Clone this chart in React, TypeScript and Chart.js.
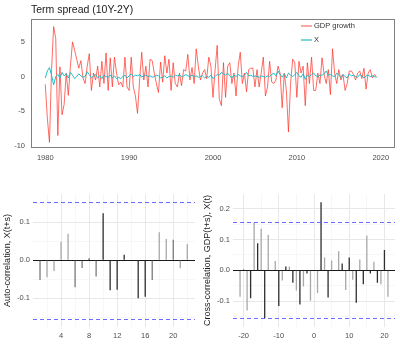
import React, { useEffect, useRef } from "react";
import { Chart, registerables } from "chart.js";

Chart.register(...registerables);

// ---------- DATA ----------
const START_YEAR = 1980;
const GDP_GROWTH = [
  -1.1, -6.0, -9.5, 1.0,
  7.2, 5.5, -8.5, 1.4,
  -5.5, -4.0, 0.5, -2.7,
  1.5, 5.0, 3.8, 2.5,
  1.2, 2.3, -0.2, -1.0,
  1.5, 3.3, -2.0, 0.5,
  -0.5, 1.5, -1.5, 2.2,
  -1.0, 3.4, -2.0, 2.7,
  -1.5, 2.8, 0.5, -1.2,
  -0.8, -1.5, 2.8, -1.5,
  -2.0, 2.8, -1.5, -2.8,
  -5.3, -0.5, 3.5, -0.5,
  1.5, -1.5, 2.5, 2.3,
  0.5, -1.0, -2.3, 2.1,
  -0.8, 3.0, 0.5, 2.5,
  -2.0, 2.0, -1.0, -1.5,
  0.5, -1.3, 1.0, 0.8,
  3.2, -0.5, 1.3, -1.0,
  4.0, 1.5, -0.5, 0.5,
  1.0, -0.3, 2.8, 1.5,
  -3.0, 1.0, 4.5, -3.2,
  -4.2, 2.0, -3.0, 1.5,
  2.0, -1.0, 0.5, -2.8,
  1.5, 3.5, -1.0, 0.5,
  -2.2, 1.0, 1.2, 1.2,
  -1.5, 1.0, -1.5, 0.5,
  2.8, -2.8, -1.5, 2.2,
  -0.8, -1.0, -0.5, 1.5,
  0.5, -4.5, 0.5, -2.0,
  -8.0, -1.0, 2.5, 2.0,
  -3.0, 2.2, 0.5, 1.5,
  -4.2, 2.0, -1.0, 2.8,
  -2.0, -2.0, 0.5, -1.0,
  2.7, 0.3, -1.0, 1.0,
  -2.6, 4.0, 0.5, -1.0,
  1.0, -0.5, 0.3, -2.0,
  -1.0, 0.8, 0.8, 0.3,
  -0.5, 0.5, 0.8, -0.3,
  1.2, -1.8, 0.5, 1.0,
  -0.2, 0.3, 0.0,
];
const X_SERIES = [
  -0.2, 0.8, 1.3, 0.2,
  -1.2, 0.0, 0.3, -0.2,
  0.6, 0.1, 0.4, -0.2,
  0.6, 0.2, -0.3, 0.0,
  0.4, 0.1, -0.1, 0.0,
  0.7, 0.3, -0.2, 0.1,
  0.3, -0.2, 0.1, -0.3,
  0.2, 0.0, -0.1, 0.2,
  -0.2, 0.1, -0.3, -0.1,
  -0.3, 0.0, 0.2, -0.2,
  0.1, 0.4, 0.0, 0.2,
  0.1, 0.3, -0.1, 0.2,
  0.2, 0.0, 0.1, -0.1,
  0.0, 0.2, 0.1, -0.2,
  -0.1, 0.1, -0.2, 0.0,
  0.1, -0.1, 0.2, 0.1,
  0.2, 0.0, 0.1, 0.3,
  0.1, 0.0, 0.2, 0.0,
  0.1, -0.1, 0.0, 0.1,
  -0.2, 0.0, -0.1, 0.2,
  -0.3, 0.0, 0.3, 0.2,
  0.6, 0.4, 0.2, 0.5,
  0.1, -0.2, 0.2, 0.0,
  0.3, 0.1, 0.0, 0.2,
  0.6, 0.1, 0.2, 0.0,
  0.1, 0.0, -0.1, 0.1,
  0.0, -0.1, 0.1, 0.0,
  0.3, 0.5, 0.1, 0.8,
  0.3, -0.1, 0.4, -0.2,
  0.5, 0.2, 0.0, 0.3,
  0.6, 0.1, -0.1, 0.4,
  -0.4, 0.2, 0.0, 0.3,
  0.5, 0.1, 0.0, 0.2,
  0.2, 0.4, 0.8, 0.2,
  0.3, 0.1, 0.0, 0.5,
  0.2, -0.1, 0.3, 0.0,
  -0.2, 0.4, 0.1, 0.2,
  0.0, -0.1, 0.3, 0.1,
  -0.2, 0.1, 0.2, 0.0,
  0.1, 0.0, -0.1,
];
const QUARTERS = GDP_GROWTH.map((_, i) => START_YEAR + i / 4);
const TOP_X_TICKS = [1980, 1990, 2000, 2010, 2020];
const TOP_Y_TICKS = [-10, -5, 0, 5];

const ACF_LAGS = [1, 2, 3, 4, 5, 6, 7, 8, 9, 10, 11, 12, 13, 14, 15, 16, 17, 18, 19, 20, 21, 22];
const ACF_VALUES = [
  -0.052, -0.045, -0.028, 0.049, 0.07, -0.071, -0.02, 0.005, -0.043, 0.124, -0.079,
  -0.078, 0.015, -0.002, -0.1, -0.096, -0.052, 0.074, 0.056, 0.054, -0.021, 0.043,
];
const ACF_X_TICKS = [2, 4, 6, 8, 10, 12, 14, 16, 18, 20, 22];
const ACF_Y_TICKS = [-0.15, -0.1, -0.05, 0, 0.05, 0.1, 0.15];

const CCF_LAGS = [
  -21, -20, -19, -18, -17, -16, -15, -14, -13, -12, -11, -10, -9, -8, -7, -6, -5, -4, -3, -2, -1,
  0, 1, 2, 3, 4, 5, 6, 7, 8, 9, 10, 11, 12, 13, 14, 15, 16, 17, 18, 19, 20, 21,
];
const CCF_VALUES = [
  -0.085, 0.003, -0.13, -0.09, 0.155, 0.088, 0.135, -0.155, 0.115, -0.002, 0.03, -0.115,
  -0.033, 0.013, 0.013, -0.04, -0.065, -0.11, -0.052, -0.01, -0.098,
  0.0, -0.073, 0.22, 0.042, -0.088, 0.032, 0.0, 0.062, 0.022, -0.063, 0.042, -0.03, -0.105,
  0.035, -0.045, 0.113, -0.01, 0.028, -0.04, -0.045, 0.066, -0.085,
];
const CCF_X_TICKS = [-20, -15, -10, -5, 0, 5, 10, 15, 20];
const CCF_Y_TICKS = [-0.15, -0.1, -0.05, 0, 0.05, 0.1, 0.15, 0.2];

const CONF_BOUND = 0.155;

// ---------- STYLES ----------
const FONT = "'Liberation Sans', Arial, sans-serif";
const TICK_COLOR = "#4d4d4d";
const RED = "rgba(255, 45, 35, 0.7)";
const CYAN = "#1fbcc4";
const LIGHT = "#a8a8a8";
const MID = "#7a7a7a";
const DARK = "#2e2e2e";
const ACF_SHADES = [
  MID, LIGHT, LIGHT, LIGHT, LIGHT, MID, MID, DARK, MID, DARK, DARK,
  DARK, DARK, DARK, DARK, DARK, MID, LIGHT, LIGHT, MID, LIGHT, LIGHT,
];
const CCF_SHADES = CCF_LAGS.map((_, i) => (i % 2 === 0 ? LIGHT : DARK));

const tickFont = { family: FONT, size: 7.5 };

const fixTicks = (values: number[]) => (scale: any) => {
  scale.ticks = values.map((v) => ({ value: v }));
};

const isMultiple = (v: number, step: number) =>
  Math.abs(Math.round(v * 1000) % Math.round(step * 1000)) === 0;

const framePlugin = {
  id: "frame",
  afterDraw(chart: any) {
    const { ctx, chartArea: a } = chart;
    ctx.save();
    ctx.strokeStyle = "#808080";
    ctx.lineWidth = 1;
    ctx.strokeRect(a.left + 0.5, a.top + 0.5, a.right - a.left - 1, a.bottom - a.top - 1);
    ctx.fillStyle = "#1a1a1a";
    ctx.font = `10.5px ${FONT}`;
    ctx.textBaseline = "middle";
    ctx.textAlign = "left";
    ctx.fillText("Term spread (10Y-2Y)", 31, 10);
    const items = [
      { label: "GDP growth", color: RED, y: 26 },
      { label: "X", color: CYAN, y: 40 },
    ];
    ctx.font = `7.5px ${FONT}`;
    items.forEach((it) => {
      ctx.strokeStyle = it.color;
      ctx.lineWidth = 1.2;
      ctx.beginPath();
      ctx.moveTo(301, it.y);
      ctx.lineTo(312, it.y);
      ctx.stroke();
      ctx.fillStyle = "#333333";
      ctx.fillText(it.label, 314, it.y);
    });
    ctx.restore();
  },
};

const refLinesPlugin = {
  id: "refLines",
  beforeDatasetsDraw(chart: any) {
    const { ctx, chartArea: a, scales } = chart;
    const y0 = Math.round(scales.y.getPixelForValue(0)) + 0.5;
    ctx.save();
    ctx.strokeStyle = "#1a1a1a";
    ctx.lineWidth = 1;
    ctx.beginPath();
    ctx.moveTo(a.left, y0);
    ctx.lineTo(a.right, y0);
    ctx.stroke();
    ctx.restore();
  },
  afterDatasetsDraw(chart: any) {
    const { ctx, chartArea: a, scales } = chart;
    ctx.save();
    ctx.strokeStyle = "rgba(60, 60, 255, 0.75)";
    ctx.lineWidth = 1;
    ctx.setLineDash([4, 3]);
    [CONF_BOUND, -CONF_BOUND].forEach((v) => {
      const y = Math.round(scales.y.getPixelForValue(v)) + 0.5;
      ctx.beginPath();
      ctx.moveTo(a.left, y);
      ctx.lineTo(a.right, y);
      ctx.stroke();
    });
    ctx.restore();
  },
};

function useChart(build: () => any) {
  const ref = useRef<HTMLCanvasElement | null>(null);
  useEffect(() => {
    if (!ref.current) return;
    const chart = new Chart(ref.current, build());
    return () => chart.destroy();
  }, []);
  return ref;
}

function TopChart() {
  const ref = useChart(() => ({
    type: "line",
    data: {
      datasets: [
        {
          label: "GDP growth",
          data: QUARTERS.map((q, i) => ({ x: q, y: GDP_GROWTH[i] })),
          borderColor: RED,
          borderWidth: 1,
          pointRadius: 0,
          tension: 0,
          order: 2,
        },
        {
          label: "X",
          data: QUARTERS.map((q, i) => ({ x: q, y: X_SERIES[i] })),
          borderColor: CYAN,
          borderWidth: 1,
          pointRadius: 0,
          tension: 0,
          order: 1,
        },
      ],
    },
    options: {
      animation: false,
      responsive: false,
      events: [],
      layout: { padding: { top: 19, right: 5, left: 0, bottom: 0 } },
      plugins: { legend: { display: false }, tooltip: { enabled: false } },
      scales: {
        x: {
          type: "linear",
          min: 1978.3,
          max: 2021.7,
          afterBuildTicks: fixTicks(TOP_X_TICKS),
          afterFit: (s: any) => { s.height = 30; },
          grid: { display: false, drawTicks: false, tickLength: 0 },
          border: { display: false },
          ticks: { font: tickFont, color: TICK_COLOR, padding: 5, maxRotation: 0, callback: (v: any) => String(v) },
        },
        y: {
          min: -10.3,
          max: 8.3,
          afterBuildTicks: fixTicks(TOP_Y_TICKS),
          afterFit: (s: any) => { s.width = 31; },
          grid: { display: false, drawTicks: false, tickLength: 0 },
          border: { display: false },
          ticks: { font: tickFont, color: TICK_COLOR, padding: 6, callback: (v: any) => String(v) },
        },
      },
    },
    plugins: [framePlugin],
  }));
  return (
    <canvas ref={ref} width={400} height={178}
      style={{ position: "absolute", left: 0, top: 0, width: 400, height: 178, display: "block" }} />
  );
}

function barConfig(opts: {
  lags: number[]; values: number[]; shades: string[]; xMin: number; xMax: number; yMin: number; yMax: number;
  xTicks: number[]; yTicks: number[]; xMajor: number; title: string;
}) {
  return {
    type: "bar",
    data: {
      datasets: [
        {
          data: opts.lags.map((l, i) => ({ x: l, y: opts.values[i] })),
          backgroundColor: opts.shades,
          borderWidth: 0,
          barThickness: 1.3,
          inflateAmount: 0,
        },
      ],
    },
    options: {
      animation: false,
      responsive: false,
      events: [],
      layout: { padding: { top: 16, right: 5, left: 0, bottom: 0 } },
      plugins: { legend: { display: false }, tooltip: { enabled: false } },
      scales: {
        x: {
          type: "linear",
          min: opts.xMin,
          max: opts.xMax,
          offset: false,
          afterBuildTicks: fixTicks(opts.xTicks),
          afterFit: (s: any) => { s.height = 26; },
          grid: {
            offset: false,
            drawTicks: false,
            lineWidth: (c: any) => (c.tick && isMultiple(c.tick.value, opts.xMajor) ? 1 : 0.6),
            color: (c: any) => (c.tick && isMultiple(c.tick.value, opts.xMajor) ? "#e8e8e8" : "#f2f2f2"),
          },
          border: { display: false },
          ticks: {
            font: tickFont,
            color: TICK_COLOR,
            padding: 4,
            maxRotation: 0,
            autoSkip: false,
            callback: (v: any) => (isMultiple(v, opts.xMajor) ? String(v) : ""),
          },
        },
        y: {
          min: opts.yMin,
          max: opts.yMax,
          afterBuildTicks: fixTicks(opts.yTicks),
          afterFit: (s: any) => { s.width = 33; },
          grid: {
            drawTicks: false,
            lineWidth: (c: any) => (c.tick && isMultiple(c.tick.value, 0.1) ? 1 : 0.6),
            color: (c: any) => (c.tick && isMultiple(c.tick.value, 0.1) ? "#e8e8e8" : "#f2f2f2"),
          },
          border: { display: false },
          title: {
            display: true,
            text: opts.title,
            font: { family: FONT, size: 9 },
            color: "#1a1a1a",
            padding: { top: 2, bottom: 2 },
          },
          ticks: {
            font: tickFont,
            color: TICK_COLOR,
            padding: 3,
            autoSkip: false,
            callback: (v: any) => (isMultiple(v, 0.1) ? Number(v).toFixed(1) : ""),
          },
        },
      },
    },
    plugins: [refLinesPlugin],
  };
}

function AcfChart() {
  const ref = useChart(() =>
    barConfig({
      lags: ACF_LAGS, values: ACF_VALUES, shades: ACF_SHADES,
      xMin: 0, xMax: 23.1, yMin: -0.176, yMax: 0.175,
      xTicks: ACF_X_TICKS, yTicks: ACF_Y_TICKS, xMajor: 4,
      title: "Auto-correlation, X(t+s)",
    })
  );
  return (
    <canvas ref={ref} width={200} height={175}
      style={{ position: "absolute", left: 0, top: 178, width: 200, height: 175, display: "block" }} />
  );
}

function CcfChart() {
  const ref = useChart(() =>
    barConfig({
      lags: CCF_LAGS, values: CCF_VALUES, shades: CCF_SHADES,
      xMin: -23, xMax: 23, yMin: -0.183, yMax: 0.247,
      xTicks: CCF_X_TICKS, yTicks: CCF_Y_TICKS, xMajor: 10,
      title: "Cross-correlation, GDP(t+s), X(t)",
    })
  );
  return (
    <canvas ref={ref} width={200} height={175}
      style={{ position: "absolute", left: 200, top: 178, width: 200, height: 175, display: "block" }} />
  );
}

export default function App() {
  return (
    <div style={{ position: "fixed", left: 0, top: 0, width: 400, height: 353, background: "#ffffff", overflow: "hidden" }}>
      <TopChart />
      <AcfChart />
      <CcfChart />
    </div>
  );
}
